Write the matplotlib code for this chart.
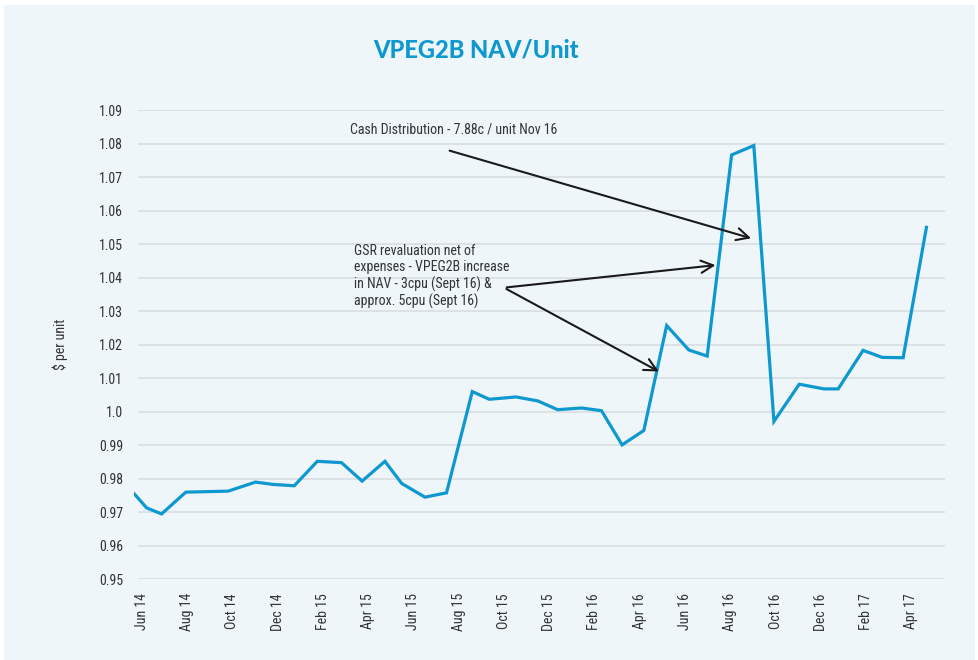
# VPEG2B NAV per unit, Jun 14 - Apr 17
import matplotlib.pyplot as plt
from matplotlib.patches import Rectangle

# Month offsets from Jun 14 (irregular reporting dates) and NAV values
months = [-0.34, 0.21, 0.87, 1.94, 3.81, 5.02, 5.80, 6.73, 7.75, 8.82,
          9.73, 10.74, 11.48, 12.51, 13.46, 14.60, 15.35, 16.53, 17.50, 18.37,
          19.43, 20.31, 21.22, 22.18, 23.19, 24.17, 24.98, 26.06, 27.04, 27.93,
          29.05, 30.14, 30.77, 31.87, 32.71, 33.64, 34.67]
nav = [0.9755, 0.9713, 0.9695, 0.9760, 0.9763, 0.9790, 0.9783, 0.9779, 0.9852, 0.9848,
       0.9793, 0.9852, 0.9786, 0.9745, 0.9758, 1.0060, 1.0037, 1.0044, 1.0032, 1.0006,
       1.0011, 1.0003, 0.9901, 0.9944, 1.0257, 1.0184, 1.0166, 1.0766, 1.0794, 0.9971,
       1.0082, 1.0068, 1.0068, 1.0183, 1.0162, 1.0161, 1.0550]

tick_pos = list(range(0, 35, 2))
tick_labels = ['Jun 14', 'Aug 14', 'Oct 14', 'Dec 14', 'Feb 15', 'Apr 15', 'Jun 15',
               'Aug 15', 'Oct 15', 'Dec 15', 'Feb 16', 'Apr 16', 'Jun 16', 'Aug 16',
               'Oct 16', 'Dec 16', 'Feb 17', 'Apr 17']
y_ticks = [0.95, 0.96, 0.97, 0.98, 0.99, 1.00, 1.01, 1.02, 1.03, 1.04, 1.05, 1.06, 1.07, 1.08, 1.09]
y_labels = ['0.95', '0.96', '0.97', '0.98', '0.99', '1.0', '1.01', '1.02', '1.03',
            '1.04', '1.05', '1.06', '1.07', '1.08', '1.09']

narrow = ['Roboto Condensed', 'Liberation Sans Narrow', 'Roboto', 'DejaVu Sans']
txt = dict(family=narrow, fontstretch='condensed', fontsize=10, color='#333333')
bg = '#eef6fa'
blue = '#0e98d0'

fig = plt.figure(figsize=(9.79, 6.60), dpi=100, facecolor='white')
fig.patches.append(Rectangle((4 / 979, 0), 971 / 979, 655 / 660, transform=fig.transFigure,
                             facecolor=bg, edgecolor='none', zorder=-10))

ax = fig.add_axes([134 / 979, 80.7 / 660, 811 / 979, 469.3 / 660])
ax.set_facecolor('none')
ax.set_xlim(-0.35, 35.49)
ax.set_ylim(0.95, 1.09)

# gridlines
ax.hlines(y_ticks, -0.18, 35.49, color='#d8dde1', lw=1.2, zorder=1)

ax.plot(months, nav, color=blue, lw=2.3, zorder=3, solid_joinstyle='miter')

for s in ax.spines.values():
    s.set_visible(False)
ax.set_yticks(y_ticks)
ax.set_yticklabels(y_labels, **txt)
ax.set_xticks(tick_pos)
ax.set_xticklabels(tick_labels, rotation=90, **txt)
ax.tick_params(length=0, pad=8)
ax.tick_params(axis='x', pad=10)
ax.set_ylabel('$ per unit', labelpad=22, **txt)

fig.text(476 / 979, 1 - 50 / 660, 'VPEG2B NAV/Unit', ha='center', va='center',
         color=blue, fontsize=17, fontweight='black', family=['Lato', 'DejaVu Sans'])

# annotations
arrow = dict(arrowstyle='->', color='#1a1a1a', lw=1.5, mutation_scale=22)
ax.text(9.2, 1.0843, 'Cash Distribution - 7.88c / unit Nov 16', va='center', **txt)
ax.annotate('', xy=(27.04, 1.0515), xytext=(13.48, 1.0781), arrowprops=arrow)

ax.text(9.37, 1.0403, 'GSR revaluation net of\nexpenses - VPEG2B increase\n'
        'in NAV - 3cpu (Sept 16) &\napprox. 5cpu (Sept 16)', va='center',
        linespacing=1.2, **txt)
ax.annotate('', xy=(25.47, 1.0438), xytext=(16.0, 1.0370), arrowprops=arrow)
ax.annotate('', xy=(22.95, 1.0116), xytext=(16.0, 1.0370), arrowprops=arrow)

fig.savefig('out.png', dpi=100, facecolor='white')
